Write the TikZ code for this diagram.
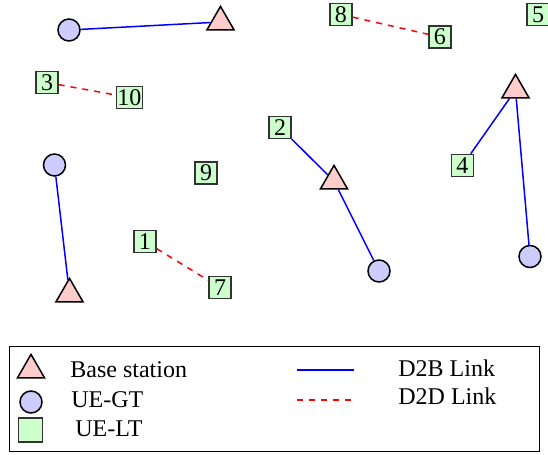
\documentclass[tikz,border=0pt]{standalone}
\usepackage{fontspec}
\setmainfont{Liberation Serif}
\usetikzlibrary{shapes.geometric}

\begin{document}
\begin{tikzpicture}[x=0.5pt, y=-0.5pt, font=\fontsize{12}{14}\selectfont,
    bs/.style={regular polygon, regular polygon sides=3, minimum size=15.6pt, inner sep=0pt,
      draw=black, fill=red!20, line width=0.75pt},
    uegt/.style={circle, minimum size=11pt, inner sep=0pt, draw=black, fill=blue!20, line width=0.75pt},
    uelt/.style={rectangle, minimum size=11pt, inner sep=0.6pt, draw=black!80, fill=green!20,
      line width=0.75pt},
    dtb/.style={blue, line width=0.75pt},
    dtd/.style={red, dashed, line width=0.75pt},
    legtext/.style={anchor=base west, inner sep=0pt}]

    \useasboundingbox (0,0) rectangle (548,455);

    % base stations
    \node (bs1) [bs] at (220.5,22) {};
    \node (bs2) [bs] at (69.5,294) {};
    \node (bs3) [bs] at (334,181) {};
    \node (bs4) [bs] at (515.5,90) {};

    % UE-GT
    \node (gt1) [uegt] at (69,30) {};
    \node (gt2) [uegt] at (54.5,165) {};
    \node (gt3) [uegt] at (379,271) {};
    \node (gt4) [uegt] at (530,256.5) {};

    % UE-LT
    \node (lt1) [uelt] at (145,241.5) {1};
    \node (lt2) [uelt] at (280,127.5) {2};
    \node (lt3) [uelt] at (47,82.5) {3};
    \node (lt4) [uelt] at (462.5,165.5) {4};
    \node (lt5) [uelt] at (538,14.5) {5};
    \node (lt6) [uelt] at (440,37) {6};
    \node (lt7) [uelt] at (220,287.5) {7};
    \node (lt8) [uelt] at (341,14.5) {8};
    \node (lt9) [uelt] at (206,173) {9};
    \node (lt10) [uelt] at (129.5,97.5) {10};

    % D2B links
    \draw [dtb] (gt1) -- (bs1);
    \draw [dtb] (gt2) -- (bs2);
    \draw [dtb] (lt2) -- (bs3);
    \draw [dtb] (bs3) -- (gt3);
    \draw [dtb] (lt4) -- (bs4);
    \draw [dtb] (bs4) -- (gt4);

    % D2D links
    \draw [dtd] (lt8) -- (lt6);
    \draw [dtd] (lt3) -- (lt10);
    \draw [dtd] (lt1) -- (lt7);

    % legend
    \draw [line width=0.5pt] (10,347) rectangle (540,452);
    \node (kbs) [bs] at (31,370) {};
    \node (kgt) [uegt] at (31,402) {};
    \node (klt) [uelt, minimum size=12pt] at (30.5,430) {};
    \node (tbs) [legtext] at (70,378) {Base station};
    \node (tgt) [legtext] at (71,408) {UE-GT};
    \node (tlt) [legtext] at (75,437) {UE-LT};
    \coordinate (kdtb1) at (297,370);
    \coordinate (kdtb2) at (354,370);
    \coordinate (kdtd1) at (297,400);
    \coordinate (kdtd2) at (354,400);
    \draw [dtb] (kdtb1) -- (kdtb2);
    \draw [dtd] (kdtd1) -- (kdtd2);
    \node (tdtb) [legtext] at (398,377) {D2B Link};
    \node (tdtd) [legtext] at (398,405) {D2D Link};
\end{tikzpicture}
\end{document}
